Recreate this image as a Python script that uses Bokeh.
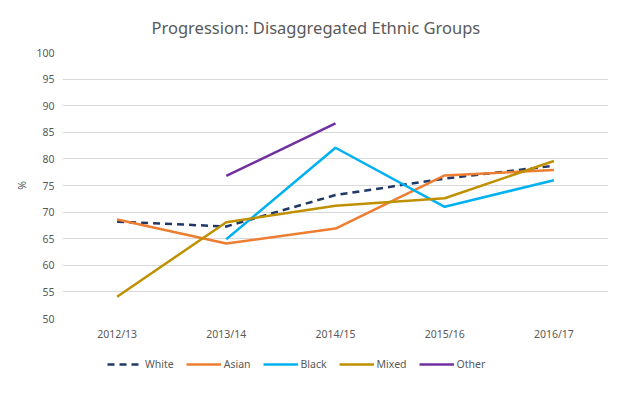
import numpy as np
from bokeh.plotting import figure
from bokeh.layouts import column
from bokeh.models import Legend, LegendItem, FactorRange, Range1d, FixedTicker, ColumnDataSource
from bokeh.embed import file_html
from bokeh.resources import INLINE

NaN = float("nan")
years = ["2012/13", "2013/14", "2014/15", "2015/16", "2016/17"]
white = [68.2, 67.3, 73.2, 76.3, 78.7]
asian = [68.6, 64.1, 66.9, 76.9, 77.9]
black = [NaN, 64.9, 82.1, 71.0, 76.0]
mixed = [54.1, 68.1, 71.2, 72.6, 79.6]
other = [NaN, 76.8, 86.7, NaN, NaN]

series = [
    ("White", white, "#203864", "7 5"),
    ("Asian", asian, "#ED7D31", "solid"),
    ("Black", black, "#00B0F0", "solid"),
    ("Mixed", mixed, "#BF9000", "solid"),
    ("Other", other, "#7030A0", "solid"),
]

FONT = "Noto Sans"
GREY = "#595959"

xr = FactorRange(factors=years)
p = figure(frame_width=546, frame_height=266, x_range=xr, y_range=Range1d(50, 100),
           output_backend="svg", toolbar_location=None,
           min_border_left=62, min_border_right=4, min_border_top=50, min_border_bottom=30)

p.title.text = "Progression: Disaggregated Ethnic Groups"
p.title.align = "left"
p.title.offset = 89
p.title.text_font = FONT
p.title.text_font_size = "16.5px"
p.title.text_font_style = "normal"
p.title.text_color = GREY
p.title.standoff = 27

p.outline_line_color = None
p.xgrid.grid_line_color = None
p.ygrid.grid_line_color = "#D9D9D9"
p.ygrid.grid_line_width = 1

p.yaxis.ticker = FixedTicker(ticks=list(range(50, 101, 5)))
for ax in (p.xaxis, p.yaxis):
    ax.axis_line_color = None
    ax.major_tick_line_color = None
    ax.minor_tick_line_color = None
    ax.major_label_text_font = FONT
    ax.major_label_text_font_size = "10.5px"
    ax.major_label_text_color = GREY
p.xaxis.major_label_standoff = 2
p.yaxis.major_label_standoff = 2
p.yaxis.axis_label = "%"
p.yaxis.axis_label_text_font = FONT
p.yaxis.axis_label_text_font_size = "10.5px"
p.yaxis.axis_label_text_font_style = "normal"
p.yaxis.axis_label_text_color = GREY
p.yaxis.axis_label_standoff = 4

for name, vals, color, dash in series:
    src = ColumnDataSource(data=dict(x=years, y=np.array(vals, dtype=float)))
    p.line(x="x", y="y", source=src, line_color=color, line_width=2.5, line_dash=dash)

# legend strip below the chart (its lines lie outside its own y range)
lg = figure(frame_width=546, frame_height=44, x_range=xr, y_range=Range1d(0, 1),
            output_backend="svg", toolbar_location=None,
            min_border_left=62, min_border_right=4, min_border_top=0, min_border_bottom=0)
lg.axis.visible = False
lg.grid.grid_line_color = None
lg.outline_line_color = None
items = []
for name, vals, color, dash in series:
    src = ColumnDataSource(data=dict(x=years, y=np.array(vals, dtype=float)))
    r = lg.line(x="x", y="y", source=src, line_color=color, line_width=2.5, line_dash=dash)
    items.append(LegendItem(label=name, renderers=[r]))
legend = Legend(items=items, orientation="horizontal", location=(45, 18),
                label_text_font=FONT, label_text_font_size="10.5px", label_text_color=GREY,
                glyph_width=35, label_standoff=3, spacing=12, border_line_color=None,
                background_fill_alpha=0, padding=4, margin=0)
lg.add_layout(legend, "center")

open("out.html", "w").write(file_html(column(p, lg), INLINE))
